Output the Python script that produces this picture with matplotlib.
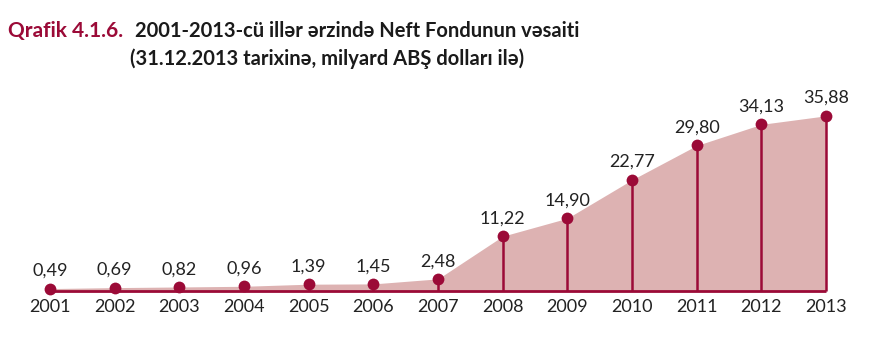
import matplotlib
matplotlib.use("Agg")
import matplotlib.pyplot as plt

years = [2001, 2002, 2003, 2004, 2005, 2006, 2007, 2008, 2009, 2010, 2011, 2012, 2013]
values = [0.49, 0.69, 0.82, 0.96, 1.39, 1.45, 2.48, 11.22, 14.90, 22.77, 29.80, 34.13, 35.88]
labels = ["0,49", "0,69", "0,82", "0,96", "1,39", "1,45", "2,48", "11,22", "14,90",
          "22,77", "29,80", "34,13", "35,88"]

RED = "#9B0A37"
FILL = "#DDB2B2"
FONT = ["Lato", "DejaVu Sans"]

fig = plt.figure(figsize=(8.81, 3.52), dpi=100)
ax = fig.add_axes([0, 0, 1, 1])
ax.set_xlim(2000.227, 2013.85)
ax.set_ylim(-12.5, 59.6)
ax.axis("off")

ax.fill_between(years, 0, values, color=FILL, linewidth=0, zorder=1)
ax.plot([years[0], years[-1]], [0, 0], color=RED, lw=2.0, zorder=2, solid_capstyle="butt")
ax.vlines(years, 0, values, color=RED, lw=1.8, zorder=2)
ax.plot(years, values, "o", color=RED, markersize=8.5, zorder=3, markeredgewidth=0)

for x, v, t in zip(years, values, labels):
    ax.annotate(t, (x, v), xytext=(0, 7), textcoords="offset points",
                ha="center", va="bottom", fontsize=13, color="#222222", family=FONT)
    ax.annotate(str(x), (x, 0), xytext=(0, -6), textcoords="offset points",
                ha="center", va="top", fontsize=13, color="#222222", family=FONT)

fig.text(8 / 881, 1 - 31 / 352, "Qrafik 4.1.6.", color=RED, fontsize=15,
         fontweight="bold", family=FONT, va="center", ha="left")
fig.text(135 / 881, 1 - 31 / 352, "2001-2013-cü illər ərzində Neft Fondunun vəsaiti",
         color="#1a1a1a", fontsize=14.5, fontweight="bold", family=FONT, va="center", ha="left")
fig.text(130 / 881, 1 - 59 / 352, "(31.12.2013 tarixinə, milyard ABŞ dolları ilə)",
         color="#1a1a1a", fontsize=14.5, fontweight="bold", family=FONT, va="center", ha="left")

fig.savefig("out.png", dpi=100, facecolor="white")
